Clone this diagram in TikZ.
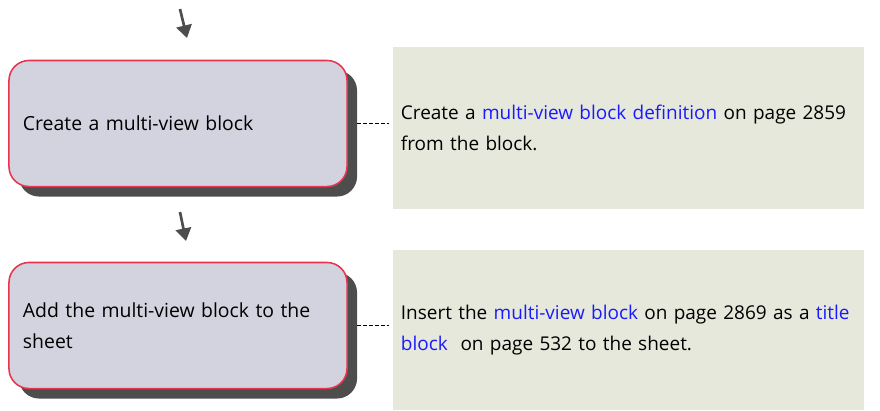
\documentclass[tikz,border=0pt]{standalone}
\usepackage{fontspec}
\setmainfont{Open Sans}
\usetikzlibrary{positioning,arrows.meta,shadows}
\definecolor{stepfill}{HTML}{D3D3E0}
\definecolor{stepline}{HTML}{E8344E}
\definecolor{shadowgray}{HTML}{4D4D4D}
\definecolor{notefill}{HTML}{E5E8DA}
\definecolor{linkblue}{HTML}{1A1AFF}
\newcommand{\lnk}[1]{\textcolor{linkblue}{#1}}

\begin{document}
\begin{tikzpicture}[x=0.025cm, y=-0.025cm,
    every node/.style={font=\fontsize{13.8}{22}\selectfont},
    stepbox/.style={draw=stepline, line width=1.1pt, fill=stepfill, rounded corners=0.5cm,
      minimum width=8.45cm, minimum height=3.15cm, text width=7.75cm, inner xsep=0.35cm,
      align=left, drop shadow={shadow xshift=0.25cm, shadow yshift=-0.25cm, fill=shadowgray, opacity=1}},
    notebox/.style={fill=notefill, minimum width=11.775cm, text width=11.375cm,
      inner xsep=0.2cm, align=left, font=\fontsize{13.5}{22}\selectfont},
    flow/.style={draw=shadowgray, line width=1.9pt, -{Triangle[width=11pt,length=9pt]}},
    link/.style={dash pattern=on 2.8pt off 1.4pt, line width=1.1pt,
      shorten <=0.23cm, shorten >=0.08cm}]
  \useasboundingbox (0,0) rectangle (880,410);

  \node[stepbox] (s1) at (178,123.5) {Create a multi-view block};
  \node[notebox, minimum height=4.05cm] (n1) at (628.5,128)
    {\mbox{Create a \lnk{multi-view block definition} on page 2859}\\from the block.};
  \draw[link] (s1.east) -- (s1.east -| n1.west);

  \node[stepbox] (s2) at (178,325.5) {Add the multi-view block to the\\sheet};
  \node[notebox, minimum height=4cm] (n2) at (628.5,330)
    {\mbox{Insert the \lnk{multi-view block} on page 2869 as a \lnk{title}}\\\lnk{block}\ \ on page 532 to the sheet.};
  \draw[link] (s2.east) -- (s2.east -| n2.west);

  % flow arrows
  \coordinate (a0) at (180,9);
  \coordinate (a1) at (187,38);
  \draw[flow] (a0) -- (a1);
  \coordinate (b0) at (180,212);
  \coordinate (b1) at (186,241);
  \draw[flow] (b0) -- (b1);
\end{tikzpicture}
\end{document}
